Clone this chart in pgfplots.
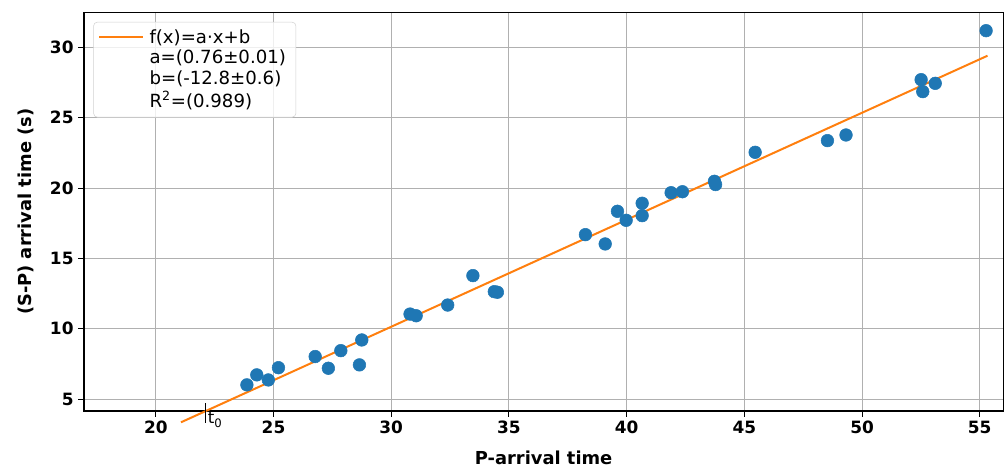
\documentclass[border=0pt]{standalone}
\usepackage{fontspec}
\setmainfont{DejaVu Sans}
\usepackage{pgfplots}
\pgfplotsset{compat=1.18}
\definecolor{mplblue}{HTML}{1F77B4}
\definecolor{mplorange}{HTML}{FF7F0E}
\definecolor{mplgrid}{HTML}{B0B0B0}
\begin{document}
\begin{tikzpicture}
\begin{axis}[
  scale only axis,
  width=689.5pt, height=298.7pt,
  xmin=16.95, xmax=56.0,
  ymin=4.17, ymax=32.46,
  xtick={20,25,...,55},
  ytick={5,10,...,30},
  tick pos=left,
  tick align=outside,
  major tick length=4.3pt,
  every tick/.style={black, line width=0.8pt},
  axis line style={black, line width=0.9pt},
  grid=major,
  major grid style={mplgrid, line width=0.8pt},
  /pgf/number format/assume math mode=true,
  tick label style={font=\fontsize{12.7pt}{14pt}\selectfont\bfseries},
  xlabel={P-arrival time},
  ylabel={(S-P) arrival time (s)},
  label style={font=\fontsize{13.4pt}{15pt}\selectfont\bfseries},
  xlabel style={yshift=-6pt},
  ylabel style={yshift=5pt},
  clip=false,
  legend cell align=left,
  legend style={at={(axis description cs:0.0101,0.977)}, anchor=north west,
    draw=gray!35, rounded corners=3pt, fill=white, fill opacity=0.8, text opacity=1,
    font=\fontsize{13.6pt}{14.5pt}\selectfont, row sep=-0.3pt, inner sep=3.5pt,
    nodes={inner xsep=4pt}},
  legend image code/.code={\draw[#1] (0pt,0pt) -- (29pt,0pt); \path (0pt,0pt) -- (33pt,0pt);},
]
\addplot[only marks, mark=*, mark size=4.75pt, mplblue, mark options={draw=none, fill=mplblue}, forget plot] coordinates {
  (23.87,6.02) (24.29,6.73) (24.78,6.37) (25.21,7.24) (26.77,8.03)
  (27.33,7.20) (27.86,8.45) (28.75,9.21) (28.65,7.44) (30.80,11.05)
  (31.06,10.93) (32.40,11.69) (33.47,13.78) (34.38,12.64) (34.51,12.60)
  (38.25,16.69) (39.09,16.03) (39.61,18.35) (39.98,17.71) (40.66,18.92)
  (40.66,18.04) (41.89,19.67) (42.37,19.74) (43.73,20.48) (43.78,20.25)
  (45.46,22.54) (48.53,23.37) (49.32,23.77) (52.51,27.70) (52.58,26.85)
  (53.11,27.44) (55.27,31.18)
};
\addplot[mplorange, line width=1.5pt] coordinates {(21.07,3.36) (55.33,29.40)};
\addlegendentry{f(x)=a·x+b}
\addlegendimage{empty legend}
\addlegendentry{a=(0.76±0.01)}
\addlegendimage{empty legend}
\addlegendentry{b=(-12.8±0.6)}
\addlegendimage{empty legend}
\addlegendentry{R\textsuperscript{2}=(0.989)}
\addplot[black, line width=0.8pt, forget plot] coordinates {(22.12,3.34) (22.12,4.76)};
\node[anchor=north west, inner sep=0pt, font=\fontsize{12.5pt}{14pt}\selectfont] at (axis cs:22.2,4.10) {t\textsubscript{0}};
\end{axis}
\path[use as bounding box] (current axis.south west) ++(-63pt,-44.25pt) rectangle ([shift={(1.3pt,9.5pt)}]current axis.north east);
\end{tikzpicture}
\end{document}
